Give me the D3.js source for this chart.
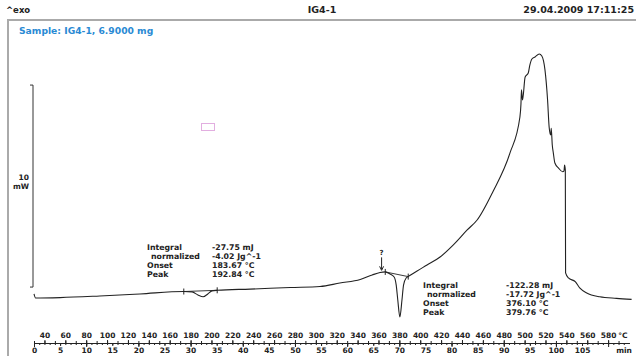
<!DOCTYPE html>
<html>
<head>
<meta charset="utf-8">
<script src="https://cdn.jsdelivr.net/npm/d3@7"></script>
<style>
body { margin: 0; background: #fff; }
svg { display: block; font-family: "DejaVu Sans", Verdana, sans-serif; }
</style>
</head>
<body>
<svg width="636" height="356"></svg>
<script>
// DSC run IG4-1, heating 5 K/min from 30 °C; heat flow in mW, exo up
const timeMin = [0, 0.3, 5, 12.6, 20.3, 28.7, 30.3, 31.4, 32.4, 33.3, 34.1, 35.1,
    41.4, 49.1, 54.8, 58.6, 62.5, 64.8, 66.3, 67.3, 68.2, 69.0, 69.4, 69.7, 70.1,
    70.5, 70.8, 71.3, 72.0, 73.4, 75.3, 77.8, 80.3, 83.0, 84.9, 87.9, 91.2, 93.1,
    93.3, 93.4, 93.6, 94.1, 94.7, 95.0, 95.4, 96.0, 96.8, 97.3, 97.9, 98.4, 98.7,
    99.0, 99.1, 99.3, 99.5, 99.8, 100.5, 101.3, 101.55, 101.65, 101.8, 101.85,
    102.4, 103.7, 104.6, 105.9, 108.4, 111.6, 114.5];
const heatFlow = [0.30, 0.10, 0.12, 0.20, 0.30, 0.42, 0.40, 0.25, 0.16, 0.30, 0.45, 0.48,
    0.54, 0.62, 0.67, 0.84, 1.01, 1.24, 1.36, 1.39, 1.29, 1.14, 0.74, 0.00, -0.84,
    0.00, 0.74, 1.09, 1.21, 1.44, 1.73, 2.13, 2.72, 3.47, 3.96, 5.35, 7.28, 9.06,
    9.70, 10.4, 9.9, 11.04, 11.24, 11.63, 11.93, 12.03, 12.18, 12.08, 11.39, 9.9, 8.56,
    8.17, 8.5, 7.67, 7.28, 6.78, 6.53, 6.35, 6.39, 6.68, 6.44, 1.34,
    1.09, 0.91, 0.59, 0.35, 0.16, 0.08, 0.03];

// integration limits (min) of the two evaluated peaks
const peakLimits = [[28.7, 35.1], [67.3, 71.7]];
const resultLabels = ["Integral", "normalized", "Onset", "Peak"];
const peak1Values = ["-27.75 mJ", "-4.02 Jg^-1", "183.67 °C", "192.84 °C"];
const peak2Values = ["-122.28 mJ", "-17.72 Jg^-1", "376.10 °C", "379.76 °C"];
const tempLabels = d3.range(40, 581, 20);
const timeLabels = d3.range(0, 106, 5);
const questionMarkTime = 66.6;

const svg = d3.select('svg');
const ink = '#222';

const x = d3.scaleLinear().domain([0, 114]).range([34, 629]);
const xT = d3.scaleLinear().domain([30, 600]).range([34, 629]);
const y = d3.scaleLinear().domain([0, 10]).range([300, 98]);

var valueAt = function(t){
    var i = d3.bisectLeft(timeMin, t);
    if (i <= 0) return heatFlow[0];
    if (i >= timeMin.length) return heatFlow[heatFlow.length - 1];
    var f = (t - timeMin[i-1]) / (timeMin[i] - timeMin[i-1]);
    return heatFlow[i-1] + f * (heatFlow[i] - heatFlow[i-1]);
}

// frame
svg.append('path')
    .attr('d', 'M8,356 V20 H636')
    .attr('fill', 'none')
    .attr('stroke', '#aaa')
    .attr('stroke-width', 2);

// header
svg.append('text').attr('x', 6).attr('y', 13)
    .attr('font-size', 8.5).attr('font-weight', 'bold').attr('fill', ink)
    .text('^exo');
svg.append('text').attr('x', 322).attr('y', 13)
    .attr('font-size', 9.5).attr('font-weight', 'bold').attr('fill', ink)
    .attr('text-anchor', 'middle')
    .text('IG4-1');
svg.append('text').attr('x', 634).attr('y', 13)
    .attr('font-size', 9.5).attr('font-weight', 'bold').attr('fill', ink)
    .attr('text-anchor', 'end')
    .text('29.04.2009 17:11:25');
svg.append('text').attr('x', 19).attr('y', 34)
    .attr('font-size', 9.2).attr('font-weight', 'bold').attr('fill', '#2a8ad4')
    .text('Sample: IG4-1, 6.9000 mg');

// 10 mW scale bar
const bar0 = 0.64;
svg.append('path')
    .attr('d', 'M30,' + y(bar0 + 10) + ' H33 V' + y(bar0) + ' H30')
    .attr('fill', 'none').attr('stroke', '#333').attr('stroke-width', 1);
svg.append('text').attr('x', 29).attr('y', 180)
    .attr('font-size', 7.5).attr('font-weight', 'bold').attr('fill', ink)
    .attr('text-anchor', 'end').text('10');
svg.append('text').attr('x', 29).attr('y', 189)
    .attr('font-size', 7.5).attr('font-weight', 'bold').attr('fill', ink)
    .attr('text-anchor', 'end').text('mW');

// small pink marker box
svg.append('rect').attr('x', 201.5).attr('y', 123.5).attr('width', 13).attr('height', 7)
    .attr('fill', 'none').attr('stroke', '#e2aee0').attr('stroke-width', 1);

// curve
const points = timeMin.map((t, i) => [t, heatFlow[i]]);
const line = d3.line().x(d => x(d[0])).y(d => y(d[1])).curve(d3.curveMonotoneX);
svg.append('path')
    .datum(points)
    .attr('d', line)
    .attr('fill', 'none')
    .attr('stroke', ink)
    .attr('stroke-width', 1.1);

// peak baselines and limit marks
peakLimits.forEach(function(lim){
    var a = [lim[0], valueAt(lim[0])], b = [lim[1], valueAt(lim[1])];
    svg.append('line')
        .attr('x1', x(a[0])).attr('y1', y(a[1]))
        .attr('x2', x(b[0])).attr('y2', y(b[1]))
        .attr('stroke', ink).attr('stroke-width', 0.9);
    [a, b].forEach(function(p){
        svg.append('line')
            .attr('x1', x(p[0])).attr('x2', x(p[0]))
            .attr('y1', y(p[1]) - 3).attr('y2', y(p[1]) + 3)
            .attr('stroke', ink).attr('stroke-width', 1);
    });
});

// question mark arrow
var qx = x(questionMarkTime), qy = y(valueAt(questionMarkTime));
svg.append('line').attr('x1', qx).attr('x2', qx)
    .attr('y1', qy - 15).attr('y2', qy - 3)
    .attr('stroke', ink).attr('stroke-width', 1);
svg.append('path')
    .attr('d', 'M' + (qx - 2) + ',' + (qy - 6) + ' L' + qx + ',' + (qy - 2) + ' L' + (qx + 2) + ',' + (qy - 6))
    .attr('fill', 'none').attr('stroke', ink).attr('stroke-width', 1);
svg.append('text').attr('x', qx).attr('y', qy - 17)
    .attr('font-size', 7).attr('font-weight', 'bold').attr('fill', ink)
    .attr('text-anchor', 'middle').text('?');

// result blocks
var drawResults = function(x0, x1, y0, values){
    resultLabels.forEach(function(lbl, i){
        svg.append('text')
            .attr('x', i == 1 ? x0 + 4 : x0).attr('y', y0 + i * 9)
            .attr('font-size', 7.8).attr('font-weight', 'bold').attr('fill', ink)
            .text(lbl);
        svg.append('text')
            .attr('x', x1).attr('y', y0 + i * 9)
            .attr('font-size', 7.8).attr('font-weight', 'bold').attr('fill', ink)
            .text(values[i]);
    });
}
drawResults(147, 212, 250, peak1Values);
drawResults(423, 506, 288, peak2Values);

// temperature axis (top) and time axis (bottom)
const axisY = 343;
var styleAxis = function(g){
    g.attr('font-size', 7.5).attr('font-family', '"DejaVu Sans", Verdana, sans-serif')
        .attr('font-weight', 'bold');
    g.selectAll('path, line').attr('stroke', ink);
    g.selectAll('text').attr('fill', ink);
}
svg.append('g').attr('transform', 'translate(0,' + axisY + ')')
    .call(d3.axisTop(xT).tickValues(d3.range(30, 600, 10)).tickSize(2).tickSizeOuter(0).tickFormat(''))
    .call(styleAxis);
svg.append('g').attr('transform', 'translate(0,' + axisY + ')')
    .call(d3.axisTop(xT).tickValues(tempLabels).tickSize(3).tickPadding(2).tickSizeOuter(0))
    .call(styleAxis);
svg.append('g').attr('transform', 'translate(0,' + axisY + ')')
    .call(d3.axisBottom(x).tickValues(d3.range(0, 114, 1)).tickSize(2).tickSizeOuter(0).tickFormat(''))
    .call(styleAxis);
svg.append('g').attr('transform', 'translate(0,' + axisY + ')')
    .call(d3.axisBottom(x).tickValues(timeLabels).tickSize(3).tickPadding(2).tickSizeOuter(0))
    .call(styleAxis);
svg.append('g').attr('transform', 'translate(0,' + axisY + ')')
    .call(d3.axisBottom(x).tickValues(d3.range(0, 114, 10)).tickSize(4).tickSizeOuter(0).tickFormat(''))
    .call(styleAxis);

svg.append('text').attr('x', 623).attr('y', 338)
    .attr('font-size', 7.5).attr('font-weight', 'bold').attr('fill', ink)
    .attr('text-anchor', 'middle').text('°C');
svg.append('text').attr('x', 624).attr('y', 353)
    .attr('font-size', 7.5).attr('font-weight', 'bold').attr('fill', ink)
    .attr('text-anchor', 'middle').text('min');
</script>
</body>
</html>
